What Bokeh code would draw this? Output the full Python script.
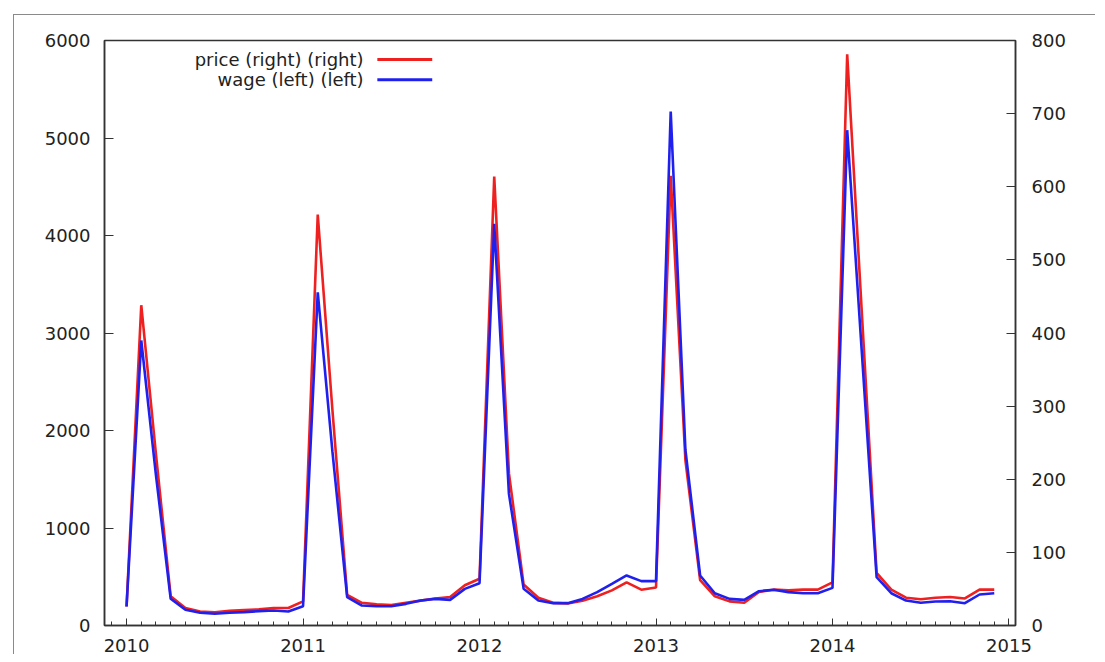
from bokeh.plotting import figure
from bokeh.models import Range1d, LinearAxis, FixedTicker, Label
from bokeh.embed import file_html
from bokeh.resources import INLINE

# ---- data -------------------------------------------------------------
years = [2010, 2011, 2012, 2013, 2014]
month_index = list(range(12))

wage = [
    195, 2923, 1540, 274, 161, 130, 120, 130, 137, 147, 154, 144,
    198, 3418, 1780, 290, 205, 198, 198, 222, 256, 273, 263, 376,
    434, 4120, 1350, 376, 256, 229, 229, 273, 342, 427, 513, 455,
    455, 5272, 1800, 513, 331, 273, 263, 352, 366, 342, 331, 331,
    386, 5080, 2790, 496, 331, 256, 233, 246, 249, 229, 318, 331,
]
price = [
    26, 438, 234, 40, 24, 19, 18, 20, 21, 22, 24, 24,
    33, 562, 294, 42, 31, 29, 28, 31, 34, 37, 39, 55,
    64, 614, 208, 56, 38, 31, 30, 34, 40, 48, 59, 49,
    52, 615, 226, 62, 40, 33, 31, 46, 49, 48, 49, 49,
    59, 781, 426, 72, 49, 38, 36, 38, 39, 37, 49, 49,
]
left_ticks = [0, 1000, 2000, 3000, 4000, 5000, 6000]
right_ticks = [0, 100, 200, 300, 400, 500, 600, 700, 800]
x_ticks = [2010, 2011, 2012, 2013, 2014, 2015]
legend_labels = ["price (right) (right)", "wage (left) (left)"]

x = [y + m / 12 for y in years for m in month_index]

RED = "#ee2020"
BLUE = "#2020ee"
FONT = "DejaVu Sans"
FS = "18px"
TXT = "#222222"
AX = "#333333"

p = figure(
    frame_width=911, frame_height=585,
    min_border_left=90, min_border_top=25, min_border_right=80, min_border_bottom=0,
    x_range=Range1d(2009.875, 2015.037), y_range=Range1d(0, 6000),
    output_backend="svg", toolbar_location=None,
    margin=(14, 0, 0, 13),
    styles={"border-top": "1px solid #8a8a8a", "border-left": "1px solid #8a8a8a"},
)
p.xgrid.visible = False
p.ygrid.visible = False
p.outline_line_color = AX
p.outline_line_width = 1.5
p.background_fill_color = "white"
p.border_fill_color = "white"

p.extra_y_ranges = {"right": Range1d(0, 800)}
raxis = LinearAxis(y_range_name="right", ticker=FixedTicker(ticks=right_ticks))
p.add_layout(raxis, "right")

p.yaxis[0].ticker = FixedTicker(ticks=left_ticks)
p.xaxis.ticker = FixedTicker(ticks=x_ticks,
                             minor_ticks=[2010 + k / 12 for k in range(-1, 61)])

for ax in [p.xaxis[0], p.yaxis[0], raxis]:
    ax.axis_line_color = AX
    ax.axis_line_width = 1.5
    ax.major_tick_line_color = AX
    ax.minor_tick_line_color = AX
    ax.major_tick_out = 0
    ax.minor_tick_out = 0
    ax.major_label_text_font = FONT
    ax.major_label_text_font_size = FS
    ax.major_label_text_color = TXT

p.xaxis.major_tick_in = 7
p.xaxis.minor_tick_in = 4
p.xaxis.major_label_standoff = 13
p.yaxis[0].major_tick_in = 9
p.yaxis[0].minor_tick_line_color = None
p.yaxis[0].major_label_standoff = 14
raxis.major_tick_in = 9
raxis.minor_tick_line_color = None
raxis.major_label_standoff = 16

p.line(x, price, y_range_name="right", line_color=RED, line_width=2.6)
p.line(x, wage, line_color=BLUE, line_width=2.6)

# legend (text right-aligned, sample line to the right)
leg_y = [5805, 5597]
for lab, yy in zip(legend_labels, leg_y):
    p.add_layout(Label(x=2011.343, y=yy, text=lab, text_align="right",
                       text_baseline="middle", text_font=FONT,
                       text_font_size=FS, text_color=TXT))
p.segment(x0=[2011.421, 2011.421], y0=leg_y, x1=[2011.732, 2011.732], y1=leg_y,
          line_color=[RED, BLUE], line_width=3)

open("out.html", "w").write(file_html(p, INLINE))
